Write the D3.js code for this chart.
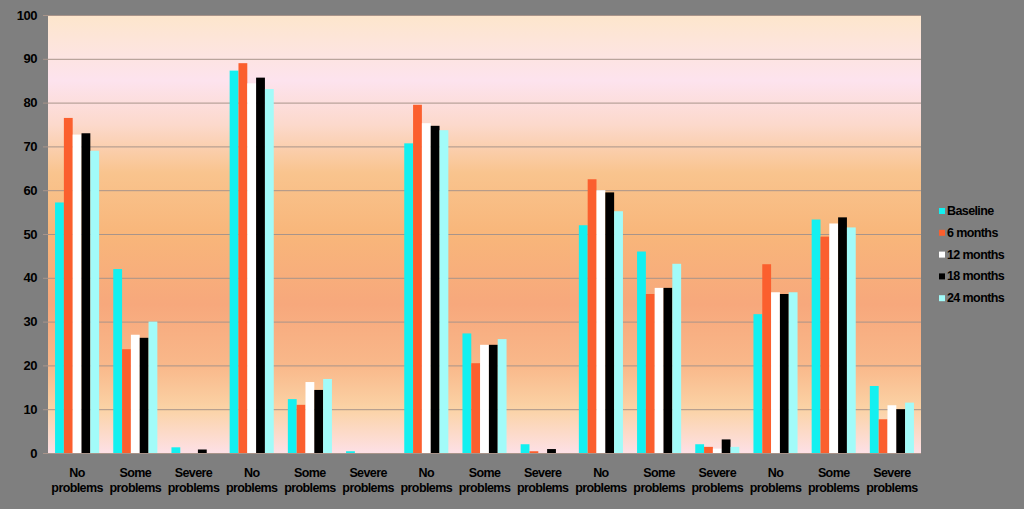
<!DOCTYPE html>
<html><head><meta charset="utf-8">
<script src="https://cdn.jsdelivr.net/npm/d3@7"></script>
<style>
html,body{margin:0;padding:0;background:#7f7f7f;}
svg{display:block;font-family:"Liberation Sans",Arial,sans-serif;}
</style></head>
<body><svg id="c" width="1024" height="509"></svg>
<script>
const categories = ["No problems","Some problems","Severe problems","No problems","Some problems","Severe problems","No problems","Some problems","Severe problems","No problems","Some problems","Severe problems","No problems","Some problems","Severe problems"];
const seriesNames = ["Baseline","6 months","12 months","18 months","24 months"];
const seriesColors = ["#13f0f0","#fb5f2e","#ffffff","#000000","#a2fbf9"];
const baseline = [57.2,42,1.3, 87.3,12.3,0.4, 70.7,27.3,2.0, 52,46,2.0, 31.7,53.3,15.3];
const m6       = [76.5,23.7,0, 89,11,0, 79.5,20.5,0.4, 62.5,36.3,1.4, 43.1,49.4,7.7];
const m12      = [72.7,27,0, 84.4,16.2,0, 75.3,24.7,0, 60,37.7,1.0, 36.7,52.4,10.9];
const m18      = [73,26.3,0.8, 85.7,14.4,0, 74.7,24.7,0.9, 59.5,37.7,3.1, 36.3,53.8,10.0];
const m24      = [69,30,0, 83.1,16.9,0, 73.7,26,0, 55.2,43.2,1.4, 36.7,51.5,11.5];
const yTicks = [0,10,20,30,40,50,60,70,80,90,100];

const allSeries = [baseline,m6,m12,m18,m24];
const svg = d3.select("#c");
const L=48,R=921,T=15,B=453;
const x0 = d3.scaleBand().domain(d3.range(categories.length)).range([L,R]).paddingInner(0).paddingOuter(0);
const x1 = d3.scaleBand().domain(d3.range(seriesNames.length)).range([0,x0.bandwidth()]).paddingOuter(0.8).paddingInner(0);
const y = d3.scaleLinear().domain([0,100]).range([B,T]);

const defs = svg.append("defs");
const g = defs.append("linearGradient").attr("id","bg").attr("x1",0).attr("x2",0).attr("y1",0).attr("y2",1);
[[0,"#fde6cc"],[0.15,"#fde3ee"],[0.25,"#fcd9cc"],[0.36,"#f9c48e"],[0.5,"#f8b67a"],[0.66,"#f7a87c"],[0.8,"#f9b88a"],[0.9,"#fbd3a6"],[1,"#fde0e6"]]
 .forEach(([o,c])=>g.append("stop").attr("offset",o).attr("stop-color",c));

svg.append("rect").attr("x",L).attr("y",T).attr("width",R-L).attr("height",B-T).attr("fill","url(#bg)");

const yAxis = d3.axisLeft(y).tickValues(yTicks).tickSize(-(R-L)).tickPadding(11).tickFormat(d3.format("d"));
const ya = svg.append("g").attr("transform",`translate(${L},0)`).call(yAxis);
ya.select(".domain").remove();
ya.selectAll(".tick line").attr("stroke","#a8948a").attr("stroke-width",1).attr("x1",-5);
ya.selectAll(".tick text").attr("fill","#000").attr("font-size",13).attr("font-weight","bold").attr("letter-spacing","-0.5px");

const grp = svg.append("g").selectAll("g").data(categories).join("g")
  .attr("transform",(d,i)=>`translate(${x0(i)},0)`);
grp.selectAll("rect").data((d,i)=>allSeries.map((s,k)=>({k,v:s[i]}))).join("rect")
  .attr("x",d=>x1(d.k)).attr("width",x1.bandwidth())
  .attr("y",d=>y(d.v)).attr("height",d=>B-y(d.v))
  .attr("fill",d=>seriesColors[d.k]);

const xl = svg.append("g");
categories.forEach((c,i)=>{
  const parts=c.split(" ");
  const cx = x0(i)+x0.bandwidth()/2;
  const t = xl.append("text").attr("x",cx).attr("text-anchor","middle")
    .attr("font-size",12.5).attr("font-weight","bold").attr("fill","#000").attr("letter-spacing","-0.6px");
  t.append("tspan").attr("x",cx).attr("y",477).text(parts[0]);
  t.append("tspan").attr("x",cx).attr("y",492).text(parts[1]);
});

const lg = svg.append("g").attr("transform","translate(939,215)");
seriesNames.forEach((n,k)=>{
  const r = lg.append("g").attr("transform",`translate(0,${k*21.8})`);
  r.append("rect").attr("x",0).attr("y",-7).attr("width",6).attr("height",6).attr("fill",seriesColors[k]);
  r.append("text").attr("x",8).attr("y",0).attr("font-size",12.5).attr("font-weight","bold").attr("fill","#000").attr("letter-spacing","-0.6px").text(n);
});
</script></body></html>
